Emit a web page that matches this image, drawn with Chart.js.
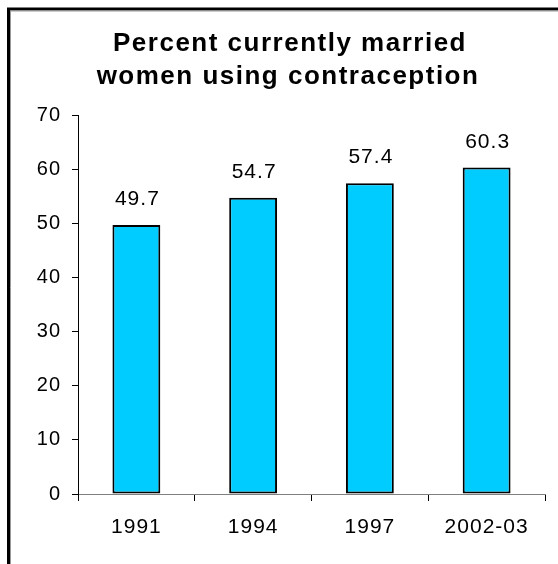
<!DOCTYPE html>
<html>
<head>
<meta charset="utf-8">
<script src="https://cdn.jsdelivr.net/npm/chart.js@4.4.0/dist/chart.umd.min.js"></script>
<style>
  html, body { margin: 0; padding: 0; background: #fff; }
  #wrap { width: 558px; height: 564px; position: relative; }
</style>
</head>
<body>
<div id="wrap"><canvas id="myChart" width="558" height="564"></canvas></div>
<script>
const categories = ['1991', '1994', '1997', '2002-03'];
const values = [49.7, 54.7, 57.4, 60.3];
const titleLines = ['Percent currently married', 'women using contraception'];
const yTicks = [0, 10, 20, 30, 40, 50, 60, 70];

const FONT = "'Liberation Sans', Arial, sans-serif";

// frame + title drawn before everything
const framePlugin = {
    id: 'frame',
    beforeDraw(chart) {
        const ctx = chart.ctx;
        ctx.save();
        ctx.fillStyle = '#fff';
        ctx.fillRect(0, 0, chart.width, chart.height);
        ctx.strokeStyle = '#000';
        ctx.lineWidth = 3;
        ctx.beginPath();
        ctx.moveTo(8.5, chart.height);
        ctx.lineTo(8.5, 9);
        ctx.lineTo(chart.width, 9);
        ctx.stroke();
        ctx.strokeStyle = '#999';
        ctx.lineWidth = 1;
        ctx.beginPath();
        ctx.moveTo(10.5, chart.height);
        ctx.lineTo(10.5, 11);
        ctx.lineTo(chart.width, 11);
        ctx.stroke();

        ctx.fillStyle = '#000';
        ctx.font = 'bold 26px ' + FONT;
        ctx.letterSpacing = '1.5px';
        ctx.textAlign = 'center';
        ctx.textBaseline = 'alphabetic';
        ctx.fillText(titleLines[0], 290, 51);
        ctx.fillText(titleLines[1], 288, 84);
        ctx.restore();
        // slightly wider text for the axis labels too
        ctx.letterSpacing = '1px';
    }
};

// value labels above the bars
const labelPlugin = {
    id: 'valueLabels',
    afterDatasetsDraw(chart) {
        const ctx = chart.ctx;
        const meta = chart.getDatasetMeta(0);
        ctx.save();
        ctx.fillStyle = '#000';
        ctx.font = '21px ' + FONT;
        ctx.letterSpacing = '1px';
        ctx.textAlign = 'center';
        ctx.textBaseline = 'alphabetic';
        meta.data.forEach((bar, i) => {
            ctx.fillText(values[i].toFixed(1), bar.x + 1, bar.y - 20);
        });
        ctx.restore();
    }
};

const ctx = document.getElementById('myChart').getContext('2d');
const myChart = new Chart(ctx, {
    type: 'bar',
    data: {
        labels: categories,
        datasets: [{
            data: values,
            backgroundColor: '#00CCFF',
            borderColor: '#000',
            borderWidth: 2,
            borderSkipped: false,
            barPercentage: 0.41,
            categoryPercentage: 1
        }]
    },
    options: {
        responsive: false,
        animation: false,
        layout: { padding: { left: 0, right: 13, top: 115, bottom: 0 } },
        plugins: {
            legend: { display: false },
            title: { display: false },
            tooltip: { enabled: false }
        },
        scales: {
            x: {
                afterFit(scale) { scale.height = 70; },
                border: { color: '#808080', width: 1 },
                grid: {
                    offset: true,
                    drawOnChartArea: false,
                    drawTicks: true,
                    tickLength: 7,
                    color: '#000'
                },
                ticks: {
                    color: '#000',
                    font: { family: FONT, size: 21 },
                    padding: 14,
                    maxRotation: 0
                }
            },
            y: {
                min: 0,
                max: 70,
                afterFit(scale) { scale.width = 78; },
                afterBuildTicks(scale) { scale.ticks = yTicks.map(v => ({ value: v })); },
                border: { color: '#000', width: 1 },
                grid: {
                    drawOnChartArea: false,
                    drawTicks: true,
                    tickLength: 6,
                    color: '#000'
                },
                ticks: {
                    color: '#000',
                    font: { family: FONT, size: 20 },
                    padding: 11
                }
            }
        }
    },
    plugins: [framePlugin, labelPlugin]
});
</script>
</body>
</html>
